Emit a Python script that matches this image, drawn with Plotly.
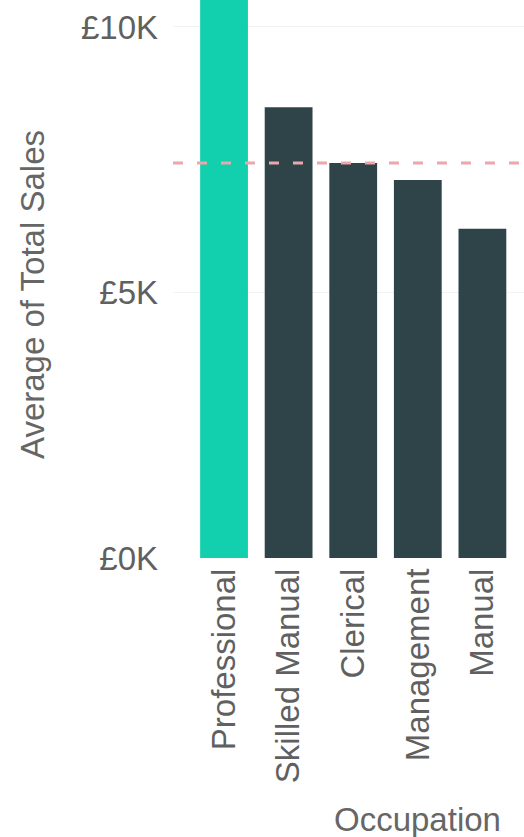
import plotly.graph_objects as go

categories = ["Professional", "Skilled Manual", "Clerical", "Management", "Manual"]
avg_sales = [10800, 8490, 7440, 7120, 6200]
average_line = 7440
tick_values = [0, 5000, 10000]
tick_labels = ["£0K", "£5K", "£10K"]

highlight = "Professional"
bar_colors = ["#12D0AE" if c == highlight else "#2F4448" for c in categories]

FONT = "Liberation Sans, Arial, sans-serif"
W, H = 524, 837
L, R, T, B = 173, 0, 0, 279

fig = go.Figure()
fig.add_trace(go.Bar(
    x=categories, y=avg_sales,
    marker=dict(color=bar_colors, line=dict(width=0)),
    width=0.74, hoverinfo="skip",
))

fig.add_shape(type="line", xref="paper", yref="y", x0=0, x1=1,
              y0=average_line, y1=average_line,
              line=dict(color="#EBA7AC", width=3, dash="10px,14px"))

fig.update_layout(
    width=W, height=H,
    margin=dict(l=L, r=R, t=T, b=B, autoexpand=False),
    plot_bgcolor="white", paper_bgcolor="white",
    showlegend=False,
    font=dict(family=FONT, size=32, color="#666666"),
    xaxis=dict(
        range=[-0.79, 4.644], tickangle=-90, showgrid=False, showline=False,
        zeroline=False, ticks="", ticklabelstandoff=3, automargin=False,
        tickfont=dict(family=FONT, size=33, color="#606060"),
    ),
    yaxis=dict(
        range=[0, 10508], tickvals=tick_values, ticktext=tick_labels,
        showgrid=True, gridcolor="#F2F2F2", gridwidth=1, zeroline=False,
        showline=False, ticks="", ticklabelstandoff=14, automargin=False,
        tickfont=dict(family=FONT, size=33, color="#606060"),
    ),
    annotations=[
        dict(text="Occupation", xref="paper", yref="paper",
             x=(417 - L) / (W - L - R), y=-(820 - 558) / 558,
             xanchor="center", yanchor="middle", showarrow=False,
             font=dict(family=FONT, size=33, color="#666666")),
        dict(text="Average of Total Sales", xref="paper", yref="paper",
             x=(32 - L) / (W - L - R), y=(558 - 295) / 558, textangle=-90,
             xanchor="center", yanchor="middle", showarrow=False,
             font=dict(family=FONT, size=33, color="#666666")),
    ],
)

fig.write_html("out.html", config={"displayModeBar": False},
               post_script="document.body.style.margin='0';document.body.style.overflow='hidden';")
